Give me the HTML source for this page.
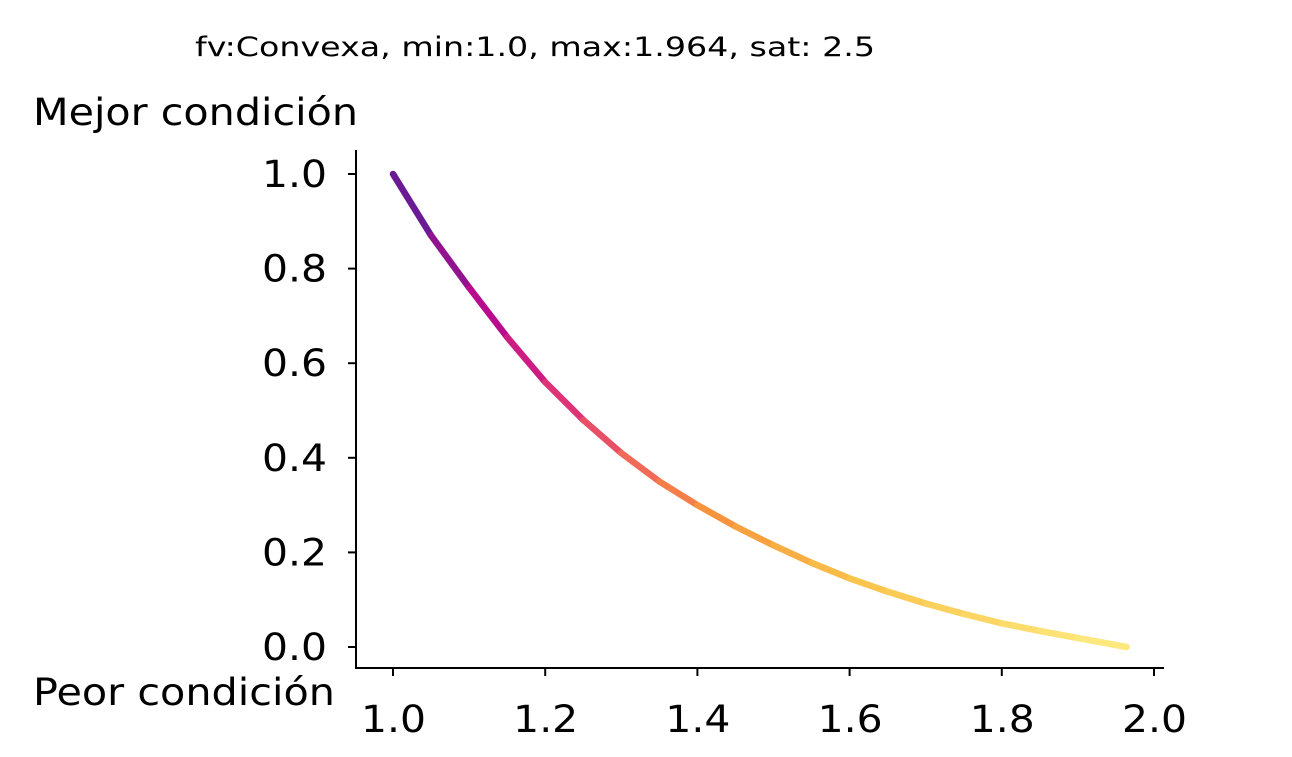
<!DOCTYPE html>
<html><head><meta charset="utf-8"><style>
body{margin:0;background:#fff;width:1292px;height:752px;overflow:hidden}
svg text{font-family:"DejaVu Sans","Liberation Sans",sans-serif;fill:#000}
</style></head><body>
<svg id="chart" width="1292" height="752">
<text x="195" y="56" font-size="27" textLength="680" lengthAdjust="spacingAndGlyphs">fv:Convexa, min:1.0, max:1.964, sat: 2.5</text>
<text x="33" y="125" font-size="37" textLength="325" lengthAdjust="spacingAndGlyphs">Mejor condición</text>
<text x="33" y="705" font-size="37" textLength="302" lengthAdjust="spacingAndGlyphs">Peor condición</text>
<g id="axes"></g>
<g id="curve"></g>
</svg>
<script>
const xs=[1.0,1.05,1.1,1.15,1.2,1.25,1.3,1.35,1.4,1.45,1.5,1.55,1.6,1.65,1.7,1.75,1.8,1.85,1.9,1.964];
const ys=[1.0,0.87,0.76,0.655,0.56,0.48,0.41,0.35,0.30,0.255,0.215,0.178,0.145,0.117,0.092,0.07,0.05,0.034,0.019,0.0];
const xTicks=[1.0,1.2,1.4,1.6,1.8,2.0];
const yTicks=[0.0,0.2,0.4,0.6,0.8,1.0];
const X=v=>393+(v-1)*761, Y=v=>647-v*473;
const NS="http://www.w3.org/2000/svg";
const ax=document.getElementById('axes');
function mk(t,a,p){const e=document.createElementNS(NS,t);for(const k in a)e.setAttribute(k,a[k]);(p||ax).appendChild(e);return e;}
let e=mk('line',{x1:356,y1:150,x2:356,y2:669,stroke:'#000','stroke-width':2});


e=mk('line',{x1:355,y1:668,x2:1164,y2:668,stroke:'#000','stroke-width':2});


xTicks.forEach(v=>{mk('line',{x1:X(v),y1:668,x2:X(v),y2:676,stroke:'#000','stroke-width':2});
 const t=mk('text',{x:X(v)-32,y:732,'font-size':37,textLength:65,lengthAdjust:'spacingAndGlyphs'});t.textContent=v.toFixed(1);
 
 });
yTicks.forEach(v=>{mk('line',{x1:348,y1:Y(v),x2:356,y2:Y(v),stroke:'#000','stroke-width':2});
 const t=mk('text',{x:262,y:Y(v)+13,'font-size':37,textLength:65,lengthAdjust:'spacingAndGlyphs'});t.textContent=v.toFixed(1);
 
 });
const stops=[[0,[106,26,148]],[0.12,[190,10,140]],[0.22,[222,50,120]],[0.32,[240,100,90]],[0.45,[247,150,60]],[0.65,[250,195,75]],[1,[253,232,125]]];
function col(t){for(let i=1;i<stops.length;i++){if(t<=stops[i][0]){const a=stops[i-1],b=stops[i],f=(t-a[0])/(b[0]-a[0]);return 'rgb('+a[1].map((c,j)=>Math.round(c+(b[1][j]-c)*f)).join(',')+')';}}return 'rgb(253,232,125)';}
const cg=document.getElementById('curve');
for(let i=0;i<xs.length-1;i++){
 const l=mk('line',{x1:X(xs[i]),y1:Y(ys[i]),x2:X(xs[i+1]),y2:Y(ys[i+1]),stroke:col(i/(xs.length-2)),'stroke-width':6.5,'stroke-linecap':'round'},cg);
 
 
}
</script>
</body></html>
